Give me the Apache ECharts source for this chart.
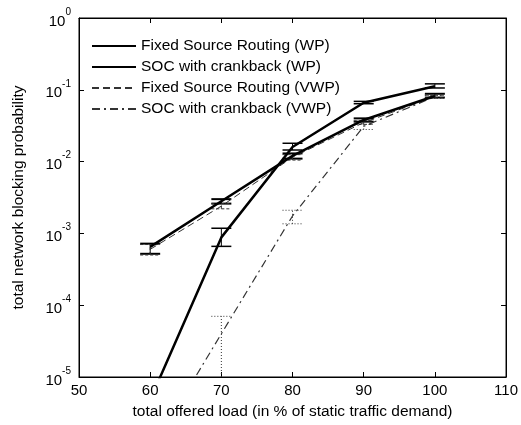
<!DOCTYPE html>
<html><head><meta charset="utf-8">
<script src="https://cdn.jsdelivr.net/npm/echarts@6/dist/echarts.min.js"></script>
<style>html,body{margin:0;padding:0;background:#fff}#c{width:521px;height:425px}</style>
</head><body><div id="c"></div>
<script>
const loads = [60, 70, 80, 90, 100];
const xTicks = [50, 60, 70, 80, 90, 100, 110];
const yTicks = [1e-5, 1e-4, 1e-3, 1e-2, 1e-1, 1];

const fixedWP   = [6.5e-4, 2.8e-3, 1.2e-2, 3.8e-2, 8.2e-2];
const fixedWPLo = [5.2e-4, 2.6e-3, 1.1e-2, 3.6e-2, 7.8e-2];
const fixedWPHi = [7.2e-4, 3.0e-3, 1.3e-2, 4.0e-2, 8.8e-2];

const socWP   = [4.8e-6, 8.8e-4, 1.6e-2, 6.6e-2, 0.112];
const socWPLo = [null, 6.6e-4, 1.45e-2, 6.4e-2, 0.106];
const socWPHi = [null, 1.18e-3, 1.8e-2, 6.9e-2, 0.121];

const fixedVWP   = [6.0e-4, 2.4e-3, 1.15e-2, 3.5e-2, 8.0e-2];
const fixedVWPLo = [5.0e-4, 2.2e-3, 1.05e-2, 3.3e-2, 7.7e-2];
const fixedVWPHi = [7.0e-4, 2.6e-3, 1.25e-2, 3.7e-2, 8.4e-2];

const socVWP   = [9e-7, 4e-5, 1.75e-3, 3.1e-2, 8.0e-2];
const socVWPLo = [null, 1e-6, 1.36e-3, 2.8e-2, 7.6e-2];
const socVWPHi = [null, 7e-5, 2.1e-3, 3.3e-2, 8.4e-2];

const names = ['Fixed Source Routing (WP)', 'SOC with crankback (WP)', 'Fixed Source Routing (VWP)', 'SOC with crankback (VWP)'];

const chart = echarts.init(document.getElementById('c'), null, {renderer: 'canvas'});
const FONT = 'Liberation Sans, Arial, Helvetica, sans-serif';
const YMIN = 1e-5, YMAX = 1;

function pairs(vals) { return loads.map((x, i) => [x, vals[i]]); }
function bars(lo, hi) {
  const out = [];
  loads.forEach((x, i) => { if (lo[i] != null && hi[i] != null) out.push([x, lo[i], hi[i]]); });
  return out;
}
function errSeries(lo, hi, width, dash, color) {
  return {
    type: 'custom', silent: true, z: 3,
    data: bars(lo, hi),
    encode: {x: 0, y: [1, 2]},
    renderItem: function (params, api) {
      const x = api.value(0);
      const lo = Math.max(api.value(1), YMIN), hi = Math.min(api.value(2), YMAX);
      const pLo = api.coord([x, lo]);
      const pHi = api.coord([x, hi]);
      const hw = 10;
      const st = {stroke: color, lineWidth: width, lineDash: dash, fill: null};
      const stV = {stroke: color, lineWidth: 1, lineDash: dash, fill: null};
      const children = [
        {type: 'line', shape: {x1: pLo[0], y1: pLo[1], x2: pHi[0], y2: pHi[1]}, style: stV}
      ];
      if (api.value(1) >= YMIN) children.push({type: 'line', shape: {x1: pLo[0] - hw, y1: pLo[1], x2: pLo[0] + hw, y2: pLo[1]}, style: st});
      children.push({type: 'line', shape: {x1: pHi[0] - hw, y1: pHi[1], x2: pHi[0] + hw, y2: pHi[1]}, style: st});
      return {type: 'group', children: children};
    }
  };
}

const option = {
  animation: false,
  backgroundColor: '#fff',
  grid: {left: 79, right: 14, top: 18, bottom: 44, show: true, borderColor: '#000', borderWidth: 1},
  legend: {
    orient: 'vertical', left: 86, top: 33, itemGap: 5, itemWidth: 44, itemHeight: 14,
    itemStyle: {opacity: 0},
    textStyle: {fontFamily: FONT, fontSize: 15.5, color: '#000'},
    data: names
  },
  xAxis: [{
    type: 'value', min: 50, max: 110, interval: 10,
    name: 'total offered load (in % of static traffic demand)', nameLocation: 'middle', nameGap: 27,
    nameTextStyle: {fontFamily: FONT, fontSize: 15.5, color: '#000'},
    axisLine: {lineStyle: {color: '#000'}},
    axisTick: {inside: true, length: 5, lineStyle: {color: '#000'}},
    axisLabel: {fontFamily: FONT, fontSize: 15, color: '#000', margin: 6},
    splitLine: {show: false}
  }, {
    type: 'value', min: 50, max: 110, interval: 10, position: 'top',
    axisLine: {show: true, lineStyle: {color: '#000'}},
    axisTick: {inside: true, length: 5, lineStyle: {color: '#000'}},
    axisLabel: {show: false}, splitLine: {show: false}
  }],
  yAxis: [{
    type: 'log', logBase: 10, min: YMIN, max: YMAX,
    name: 'total network blocking probability', nameLocation: 'middle', nameGap: 52,
    nameTextStyle: {fontFamily: FONT, fontSize: 15.5, color: '#000'},
    axisLine: {show: true, lineStyle: {color: '#000'}},
    axisTick: {inside: true, length: 5, lineStyle: {color: '#000'}},
    minorTick: {show: false},
    axisLabel: {
      margin: 8, color: '#000',
      formatter: function (v) { return '{b|10}{e|' + Math.round(Math.log10(v)) + '}'; },
      rich: {
        b: {fontFamily: FONT, fontSize: 15, color: '#000', lineHeight: 22, verticalAlign: 'bottom'},
        e: {fontFamily: FONT, fontSize: 10, color: '#000', lineHeight: 22, verticalAlign: 'top'}
      }
    },
    splitLine: {show: false}
  }, {
    type: 'log', logBase: 10, min: YMIN, max: YMAX, position: 'right',
    axisLine: {show: true, lineStyle: {color: '#000'}},
    axisTick: {inside: true, length: 5, lineStyle: {color: '#000'}},
    axisLabel: {show: false}, splitLine: {show: false}
  }],
  series: [
    {name: names[0], type: 'line', data: pairs(fixedWP), symbol: 'none', clip: true, z: 5,
     lineStyle: {color: '#000', width: 2.5}, itemStyle: {color: '#000'}},
    {name: names[1], type: 'line', data: pairs(socWP), symbol: 'none', clip: true, z: 5,
     lineStyle: {color: '#000', width: 2.5}, itemStyle: {color: '#000'}},
    {name: names[2], type: 'line', data: pairs(fixedVWP), symbol: 'none', clip: true, z: 4,
     lineStyle: {color: '#333', width: 1, type: [7, 4]}, itemStyle: {color: '#333'}},
    {name: names[3], type: 'line', data: pairs(socVWP), symbol: 'none', clip: true, z: 4,
     lineStyle: {color: '#333', width: 1.2, type: [8, 4, 2, 4]}, itemStyle: {color: '#333'}},
    errSeries(fixedWPLo, fixedWPHi, 2, null, '#000'),
    errSeries(socWPLo, socWPHi, 1.5, null, '#000'),
    errSeries(fixedVWPLo, fixedVWPHi, 1, [3, 2], '#333'),
    errSeries(socVWPLo, socVWPHi, 1, [1, 2], '#333')
  ]
};
chart.setOption(option);
</script>
</body></html>
